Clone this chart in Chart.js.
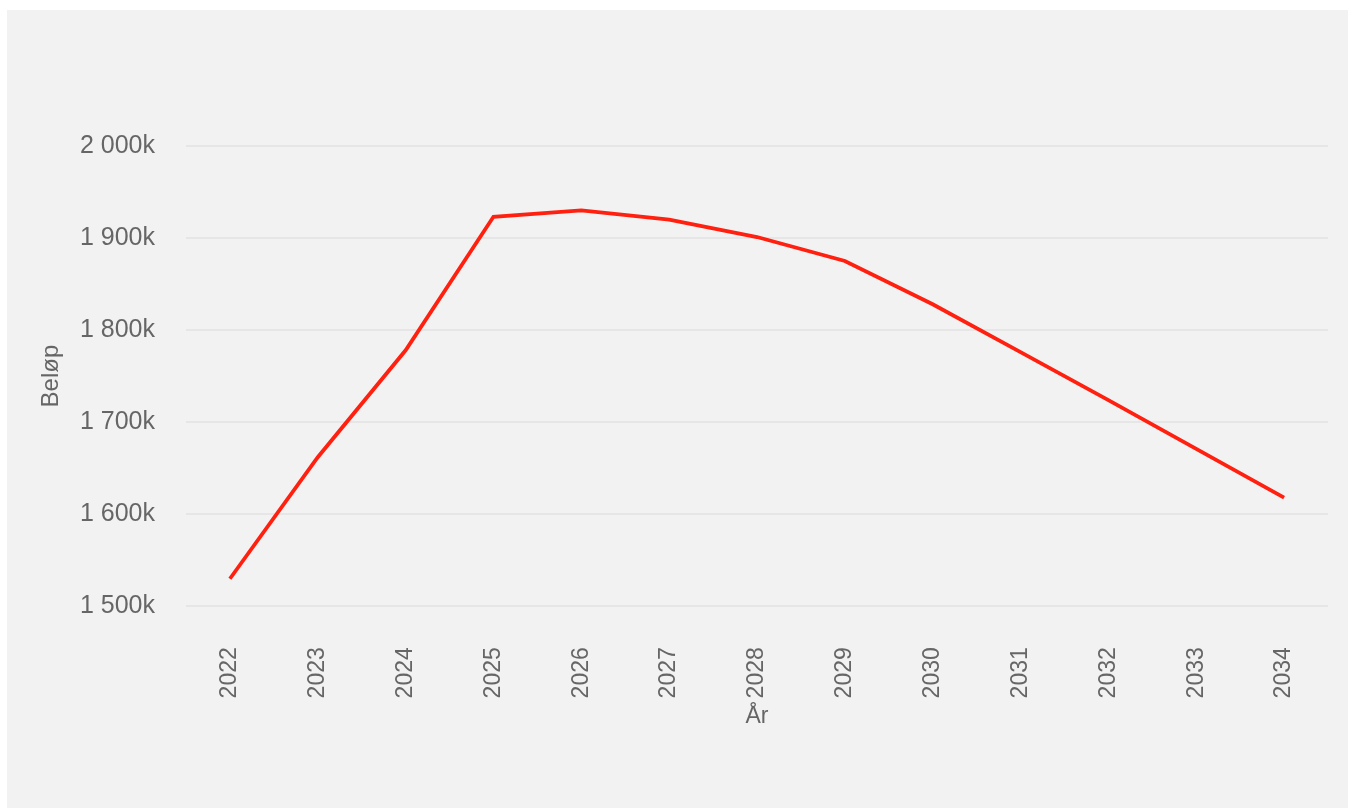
<!DOCTYPE html>
<html>
<head>
<meta charset="utf-8">
<script src="https://cdn.jsdelivr.net/npm/chart.js@4"></script>
<style>
  html, body { margin: 0; padding: 0; background: #ffffff; }
  #panel { position: absolute; left: 7px; top: 10px; width: 1341px; height: 798px; background: #f2f2f2; }
  #chart { display: block; }
</style>
</head>
<body>
<div id="panel"><canvas id="chart" width="1341" height="798"></canvas></div>
<script>
// data
const years = ['2022', '2023', '2024', '2025', '2026', '2027', '2028', '2029', '2030', '2031', '2032', '2033', '2034'];
const amounts = [1530, 1662, 1778, 1923, 1930, 1920, 1901, 1875, 1828, 1776, 1724, 1671, 1618]; // i tusen
const yTicks = [1500, 1600, 1700, 1800, 1900, 2000];

const fmt = v => {
    const s = String(Math.round(v));
    return (s.length > 3 ? s.slice(0, s.length - 3) + ' ' + s.slice(-3) : s) + 'k';
};

Chart.defaults.font.family = '"Liberation Sans", Arial, sans-serif';
Chart.defaults.color = '#666666';

new Chart(document.getElementById('chart'), {
    type: 'line',
    data: {
        labels: years,
        datasets: [{
            label: 'Beløp',
            data: amounts,
            borderColor: '#ff2010',
            borderWidth: 3.8,
            pointRadius: 0,
            tension: 0,
            fill: false
        }]
    },
    options: {
        responsive: false,
        animation: false,
        layout: {padding: {top: 99, right: 20, bottom: 78, left: 30}},
        plugins: {
            legend: {display: false},
            tooltip: {enabled: false}
        },
        scales: {
            x: {
                offset: true,
                grid: {display: false, drawTicks: false},
                border: {display: false},
                ticks: {minRotation: 90, maxRotation: 90, padding: 4, font: {size: 23}},
                title: {display: true, text: 'År', font: {size: 23}, padding: {top: 0, bottom: 0}}
            },
            y: {
                min: 1460,
                max: 2040,
                afterBuildTicks: scale => {
                    scale.ticks = yTicks.map(v => ({value: v}));
                },
                afterFit: scale => {
                    scale.width = 149;
                },
                grid: {color: '#e6e6e6', lineWidth: 2, drawTicks: false},
                border: {display: false},
                ticks: {padding: 31, font: {size: 25}, callback: v => fmt(v)},
                title: {display: true, text: 'Beløp', font: {size: 24}, padding: {top: 0, bottom: 0}}
            }
        }
    }
});
</script>
</body>
</html>
